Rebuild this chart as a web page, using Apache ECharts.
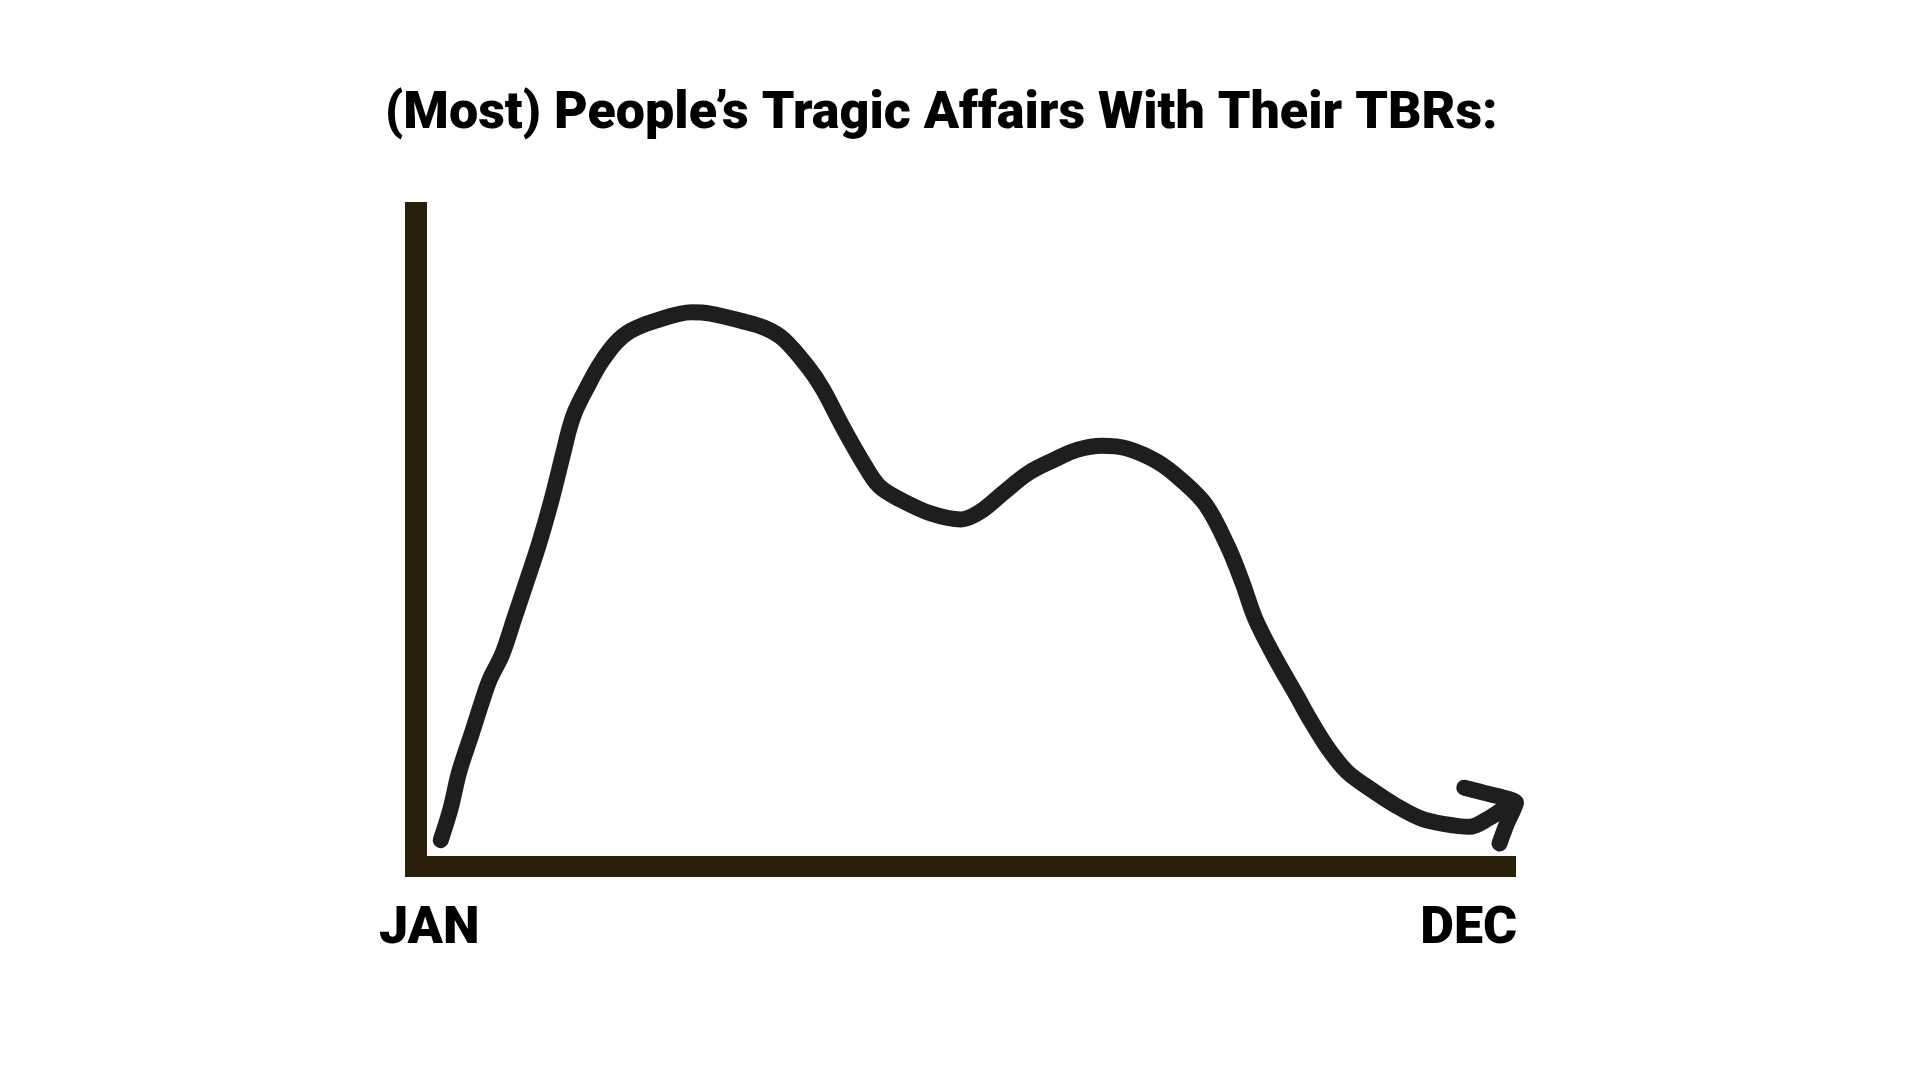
<!DOCTYPE html>
<html>
<head>
<meta charset="utf-8">
<script src="https://cdn.jsdelivr.net/npm/echarts@6/dist/echarts.min.js"></script>
<style>html,body{margin:0;padding:0;background:#fff}#c{width:1920px;height:1080px}</style>
</head>
<body>
<div id="c"></div>
<script>
const titleText = '(Most) People\u2019s Tragic Affairs With Their TBRs:';
const monthLabels = ['JAN', 'DEC'];
// hand-drawn curve, x = share of year (0-100), y = level (0-100)
const curveX = [2.25, 3.15, 3.93, 5.04, 5.93, 6.71, 7.82, 8.94, 10.05, 11.16, 12.27, 13.39, 13.95, 14.5, 15.62, 16.73, 18.17, 19.51, 21.74, 25.07, 26.75, 29.53, 31.75, 33.43, 35.65, 36.99, 38.77, 40.66, 42.11, 44.0, 46.78, 49.56, 51.24, 53.46, 55.69, 57.92, 60.15, 62.37, 64.59, 67.38, 69.6, 71.83, 73.84, 75.17, 76.28, 77.95, 80.18, 81.29, 82.96, 84.64, 86.85, 89.08, 91.31, 93.54, 95.76, 97.53, 98.9];
const curveY = [3.9, 8.7, 14.2, 19.8, 24.4, 28.1, 31.8, 37.3, 42.8, 48.4, 54.8, 62.2, 65.9, 68.6, 72.3, 75.6, 78.8, 80.6, 82.1, 83.4, 83.2, 82.1, 81.0, 79.3, 75.1, 71.8, 66.2, 60.7, 57.2, 55.2, 53.1, 52.2, 53.3, 56.3, 59.2, 61.1, 62.7, 63.3, 62.9, 60.9, 58.1, 54.3, 48.0, 42.5, 37.3, 31.8, 25.3, 22.0, 17.6, 14.2, 11.5, 9.1, 7.2, 6.3, 5.9, 7.2, 8.7];
const arrowX = [95.3, 97.4, 100.0, 99.2, 98.5];
const arrowY = [11.8, 10.9, 9.5, 6.5, 3.4];

const curveData = curveX.map((x, i) => [x, curveY[i]]);
const arrowData = arrowX.map((x, i) => [x, arrowY[i]]);

const chart = echarts.init(document.getElementById('c'));
chart.setOption({
  backgroundColor: '#ffffff',
  animation: false,
  title: {
    text: titleText,
    left: 380,
    top: 84,
    textStyle: { fontFamily: 'Roboto', fontWeight: 900, fontSize: 52, color: '#000000' }
  },
  grid: { left: 416, top: 213, right: 404, bottom: 214, containLabel: false },
  xAxis: {
    type: 'value', min: 0, max: 100,
    splitLine: { show: false },
    axisTick: { show: false },
    axisLine: { show: true, lineStyle: { color: '#2a1f08', width: 21, cap: 'butt' } },
    axisLabel: {
      show: true,
      customValues: [1.2, 95.7],
      formatter: v => (v < 50 ? monthLabels[0] : monthLabels[1]),
      margin: 38,
      fontFamily: 'Roboto', fontWeight: 900, fontSize: 52, color: '#000000'
    }
  },
  yAxis: {
    type: 'value', min: 0, max: 98.34,
    splitLine: { show: false },
    axisTick: { show: false },
    axisLabel: { show: false },
    axisLine: { show: true, lineStyle: { color: '#2a1f08', width: 22, cap: 'square' } }
  },
  series: [
    {
      type: 'line', data: curveData, smooth: 0.35, showSymbol: false, clip: false,
      lineStyle: { color: '#1e1e1e', width: 16, cap: 'round', join: 'round' }
    },
    {
      type: 'line', data: arrowData, smooth: 0.2, showSymbol: false, clip: false,
      lineStyle: { color: '#1e1e1e', width: 16, cap: 'round', join: 'round' }
    }
  ]
});
</script>
</body>
</html>
